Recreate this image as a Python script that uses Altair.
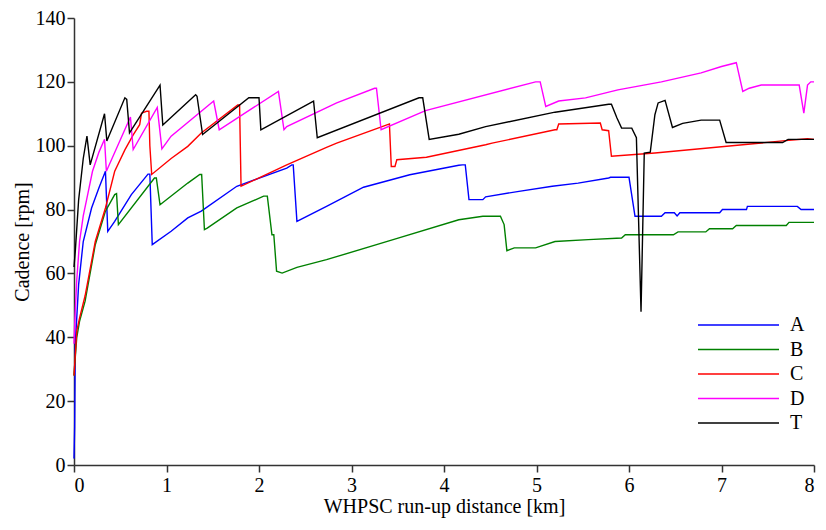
import altair as alt
import pandas as pd

names = ["A", "B", "C", "D", "T"]
colors = ["#0000FF", "#008000", "#FF0000", "#FF00FF", "#000000"]

A_x = [0, 0.007, 0.014, 0.05, 0.1, 0.19, 0.27, 0.34, 0.365, 0.44, 0.62, 0.8, 0.82, 0.846, 1.05, 1.23, 1.376,
       1.76, 2.3, 2.355, 2.37, 2.41, 2.73, 3.13, 3.63, 4.16, 4.2, 4.23, 4.27, 4.42, 4.45, 4.81, 5.17, 5.45,
       5.78, 5.8, 6.0, 6.065, 6.35, 6.39, 6.49, 6.52, 6.55, 6.98, 7.01, 7.27, 7.28, 7.82, 7.86, 8.0]
A_y = [2, 12, 38, 56.5, 70, 80.5, 86.8, 92, 73.2, 76.3, 84.7, 91.1, 91.1, 69, 73.2, 77.4, 79.5,
       87.3, 93, 94, 94, 76.3, 81, 87, 90.9, 93.9, 94, 94, 83.1, 83.1, 84, 85.7, 87.3, 88.3,
       89.9, 90.1, 90.1, 77.9, 77.9, 79, 79, 78, 79, 79, 80, 80, 81, 81, 80, 80]

B_x = [0, 0.007, 0.03, 0.06, 0.12, 0.23, 0.34, 0.44, 0.46, 0.48, 0.87, 0.89, 0.93, 1.23, 1.36, 1.38, 1.41,
       1.44, 1.76, 2.05, 2.09, 2.14, 2.16, 2.19, 2.25, 2.41, 2.73, 3.45, 4.16, 4.42, 4.61, 4.65, 4.68,
       4.76, 4.99, 5.2, 5.56, 5.92, 5.96, 6.48, 6.53, 6.83, 6.87, 7.12, 7.16, 7.7, 7.73, 8.0]
B_y = [28, 31, 40, 45, 51.3, 69, 79.5, 84.7, 85, 75.3, 89.9, 89.9, 81.5, 88.3, 91, 91, 73.7,
       74.2, 80.5, 84.2, 84.2, 72.1, 72.1, 60.7, 60.1, 61.9, 64.3, 70.6, 76.8, 77.9, 77.9, 75.3, 67.1,
       68, 68, 70, 70.6, 71.1, 72.1, 72.1, 73, 73, 74, 74, 75, 75, 76, 76]

C_x = [0, 0.014, 0.03, 0.06, 0.12, 0.23, 0.34, 0.44, 0.55, 0.64, 0.71, 0.73, 0.785, 0.81, 0.82, 0.84,
       1.05, 1.23, 1.376, 1.77, 1.79, 1.806, 2.3, 2.73, 2.84, 3.39, 3.41, 3.43, 3.47, 3.49, 3.81, 4.45,
       4.52, 5.2, 5.22, 5.24, 5.69, 5.71, 5.78, 5.81, 6.28, 7.66, 7.93, 8.0]
C_y = [28, 34.5, 42, 46, 53, 70, 80.5, 92, 98.7, 103.4, 106.6, 110.2, 110.8, 110.8, 100, 91,
       96, 99.8, 104, 112.8, 112.8, 87.3, 94, 99.5, 100.8, 106.6, 106.8, 93.5, 93.5, 95.6, 96.4, 100.3,
       100.8, 105, 105, 106.8, 107.1, 105, 104.7, 96.7, 97.7, 101.5, 102.2, 102]

D_x = [0, 0.01, 0.03, 0.06, 0.1, 0.15, 0.2, 0.27, 0.33, 0.35, 0.61, 0.64, 0.9, 0.95, 1.05, 1.51, 1.57,
       2.21, 2.27, 2.3, 2.84, 3.25, 3.27, 3.32, 3.8, 4.99, 5.04, 5.1, 5.24, 5.53, 5.88, 6.35, 6.78, 7.0,
       7.16, 7.23, 7.3, 7.43, 7.84, 7.89, 7.93, 7.965, 8.0]
D_y = [38, 46, 58, 70, 78, 85, 92, 98, 102, 92, 109, 98.8, 112, 99, 103, 114, 105,
       117, 105, 106, 113.4, 118, 118, 105, 111, 120, 120, 112.3, 114, 115, 117.5, 120, 122.8, 124.8,
       126, 117, 118, 119, 119, 110.2, 119, 120, 120]

T_x = [0, 0.014, 0.05, 0.1, 0.14, 0.175, 0.33, 0.355, 0.55, 0.57, 0.6, 0.93, 0.96, 1.315, 1.33, 1.39,
       1.89, 2.0, 2.02, 2.59, 2.63, 3.73, 3.77, 3.84, 4.16, 4.45, 5.2, 5.78, 5.81, 5.87, 5.92, 6.03, 6.08,
       6.13, 6.165, 6.23, 6.28, 6.315, 6.39, 6.47, 6.58, 6.78, 6.98, 7.05, 7.66, 7.72, 8.0]
T_y = [62, 67, 83, 96, 103, 94, 110, 101.5, 115, 114.5, 104, 119, 106.5, 116, 115.5, 103.5,
       115, 115, 105, 114, 102.5, 115, 115, 102, 103.6, 106, 110.5, 113, 113, 108.7, 105.5, 105.5, 102.5,
       48, 97.7, 98, 109.7, 113.4, 114.2, 105.7, 107, 108, 108, 101, 101, 102, 102]

series = {"A": (A_x, A_y), "B": (B_x, B_y), "C": (C_x, C_y), "D": (D_x, D_y), "T": (T_x, T_y)}

rows = []
for name in names:
    xs, ys = series[name]
    for i, (xv, yv) in enumerate(zip(xs, ys)):
        rows.append({"series": name, "x": xv, "y": yv, "i": i})
df = pd.DataFrame(rows)
legend_df = pd.DataFrame({"series": names})

FONT = "Liberation Serif"
color_scale = alt.Scale(domain=names, range=colors)

lines = alt.Chart(df).mark_line(strokeWidth=1.4).encode(
    x=alt.X("x:Q", scale=alt.Scale(domain=[0, 8], nice=False),
            axis=alt.Axis(values=list(range(0, 9)), title="WHPSC run-up distance [km]", format="d")),
    y=alt.Y("y:Q", scale=alt.Scale(domain=[0, 140], nice=False),
            axis=alt.Axis(values=list(range(0, 141, 20)), title="Cadence [rpm]", format="d")),
    color=alt.Color("series:N", scale=color_scale, legend=None),
    order=alt.Order("i:Q"),
)

leg_y = alt.Y("series:N", scale=alt.Scale(domain=names, range=[307, 405], type="point", padding=0), axis=None)
leg_rule = alt.Chart(legend_df).mark_rule(strokeWidth=1.5).encode(
    x=alt.value(624), x2=alt.value(705), y=leg_y,
    color=alt.Color("series:N", scale=color_scale, legend=None),
)
leg_text = alt.Chart(legend_df).mark_text(align="left", baseline="middle", font=FONT, fontSize=20,
                                          color="black").encode(
    x=alt.value(716), y=leg_y, text="series:N",
)
legend = alt.layer(leg_rule, leg_text)

chart = alt.layer(lines, legend).resolve_scale(y="independent").properties(
    width=740, height=447,
    autosize=alt.AutoSizeParams(type="none"),
    padding={"left": 66, "top": 10, "right": 4, "bottom": 57},
).configure_view(stroke=None).configure_axis(
    grid=False,
    labelFont=FONT, labelFontSize=20, labelColor="black",
    titleFont=FONT, titleFontSize=20, titleFontWeight="normal", titleColor="black",
    domainColor="#333333", tickColor="#333333", tickSize=7, domainWidth=1.5, tickWidth=1.5,
).configure_axisX(titlePadding=1, labelPadding=3).configure_axisY(titlePadding=3, labelPadding=2)

chart.save("out.html", embed_options={"renderer": "svg", "actions": False})
